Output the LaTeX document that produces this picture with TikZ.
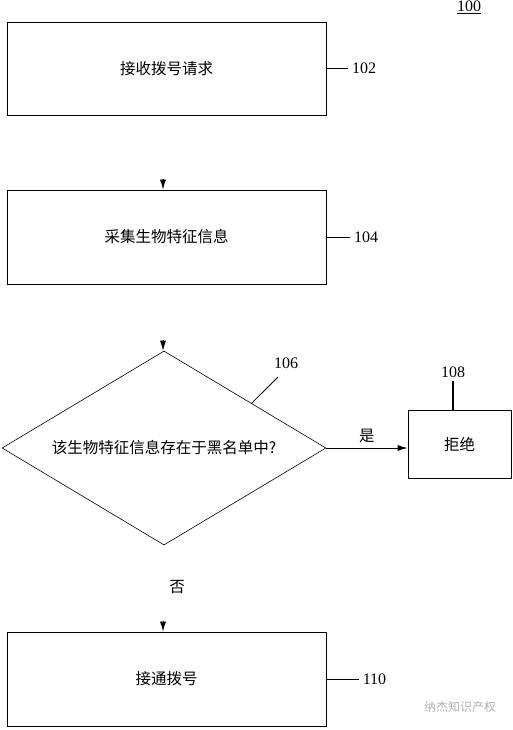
\documentclass[tikz,border=0pt]{standalone}
\usepackage{fontspec}
\setmainfont{Liberation Serif}
\newfontfamily\cjk{Noto Sans CJK SC}
\usetikzlibrary{calc, shapes.geometric, arrows.meta}
\tikzset{>={Latex[length=10pt,width=6pt]}}
\tikzset{
  stepbox/.style={draw, line width=0.8pt, inner sep=0pt, font=\cjk\fontsize{15.5}{18}\selectfont},
  decision/.style={draw, diamond, aspect=1.67, line width=0.6pt, inner sep=0pt, font=\cjk\fontsize{15.5}{18}\selectfont},
  refnum/.style={font=\fontsize{16}{18}\selectfont},
  cjklabel/.style={font=\cjk\fontsize{15.5}{18}\selectfont}
}

\begin{document}
\begin{tikzpicture}[x=1pt, y=-1pt]
\useasboundingbox (0,0) rectangle (512,730);
\node[refnum] (fig) at (469,7) {\underline{100}};
% steps
\node[stepbox, minimum width=319pt, minimum height=93pt] (recv) at (166.5,68.5) {接收拨号请求};
\node[stepbox, minimum width=319pt, minimum height=94pt] (collect) at (166.5,237) {采集生物特征信息};
\node[decision, minimum width=324pt, minimum height=194pt] (check) at (164,448) {该生物特征信息存在于黑名单中?};
\node[stepbox, minimum width=103pt, minimum height=68pt] (reject) at (459.5,444) {拒绝};
\node[stepbox, minimum width=319pt, minimum height=94pt] (connect) at (166.5,679) {接通拨号};
% arrow heads
\coordinate (in104) at (163,179);
\coordinate (in106) at (163,340);
\coordinate (in110) at (163,621);
\draw[->, line width=0.8pt] (in104) -- (in104 |- collect.north);
\draw[->, line width=0.8pt] (in106) -- (in106 |- check.north);
\draw[->, line width=0.8pt] (in110) -- (in110 |- connect.north);
\draw[->, line width=0.8pt] (check.east) -- (check.east -| reject.west) node[cjklabel, midway, above=2pt] (yes) {是};
\node[cjklabel] (no) at (177,587) {否};
% reference numbers
\node[refnum] (l102) at (364,68.5) {102};
\node[refnum] (l104) at (366,237) {104};
\node[refnum] (l106) at (286,363) {106};
\node[refnum] (l108) at (453,372) {108};
\node[refnum] (l110) at (374.5,679) {110};
\coordinate (tick106) at (278,377);
\draw[line width=0.8pt] (recv.east) -- (l102.west);
\draw[line width=0.8pt] (collect.east) -- (l104.west);
\draw[line width=0.8pt] ($(check.north)!0.54!(check.east)$) -- (tick106);
\draw[line width=1.2pt] (l108.south) -- (l108.south |- reject.north);
\draw[line width=0.8pt] (connect.east) -- (l110.west);
\node[font=\cjk\fontsize{12}{14}\selectfont, text=gray!60] (mark) at (460,707) {纳杰知识产权};
\end{tikzpicture}
\end{document}
